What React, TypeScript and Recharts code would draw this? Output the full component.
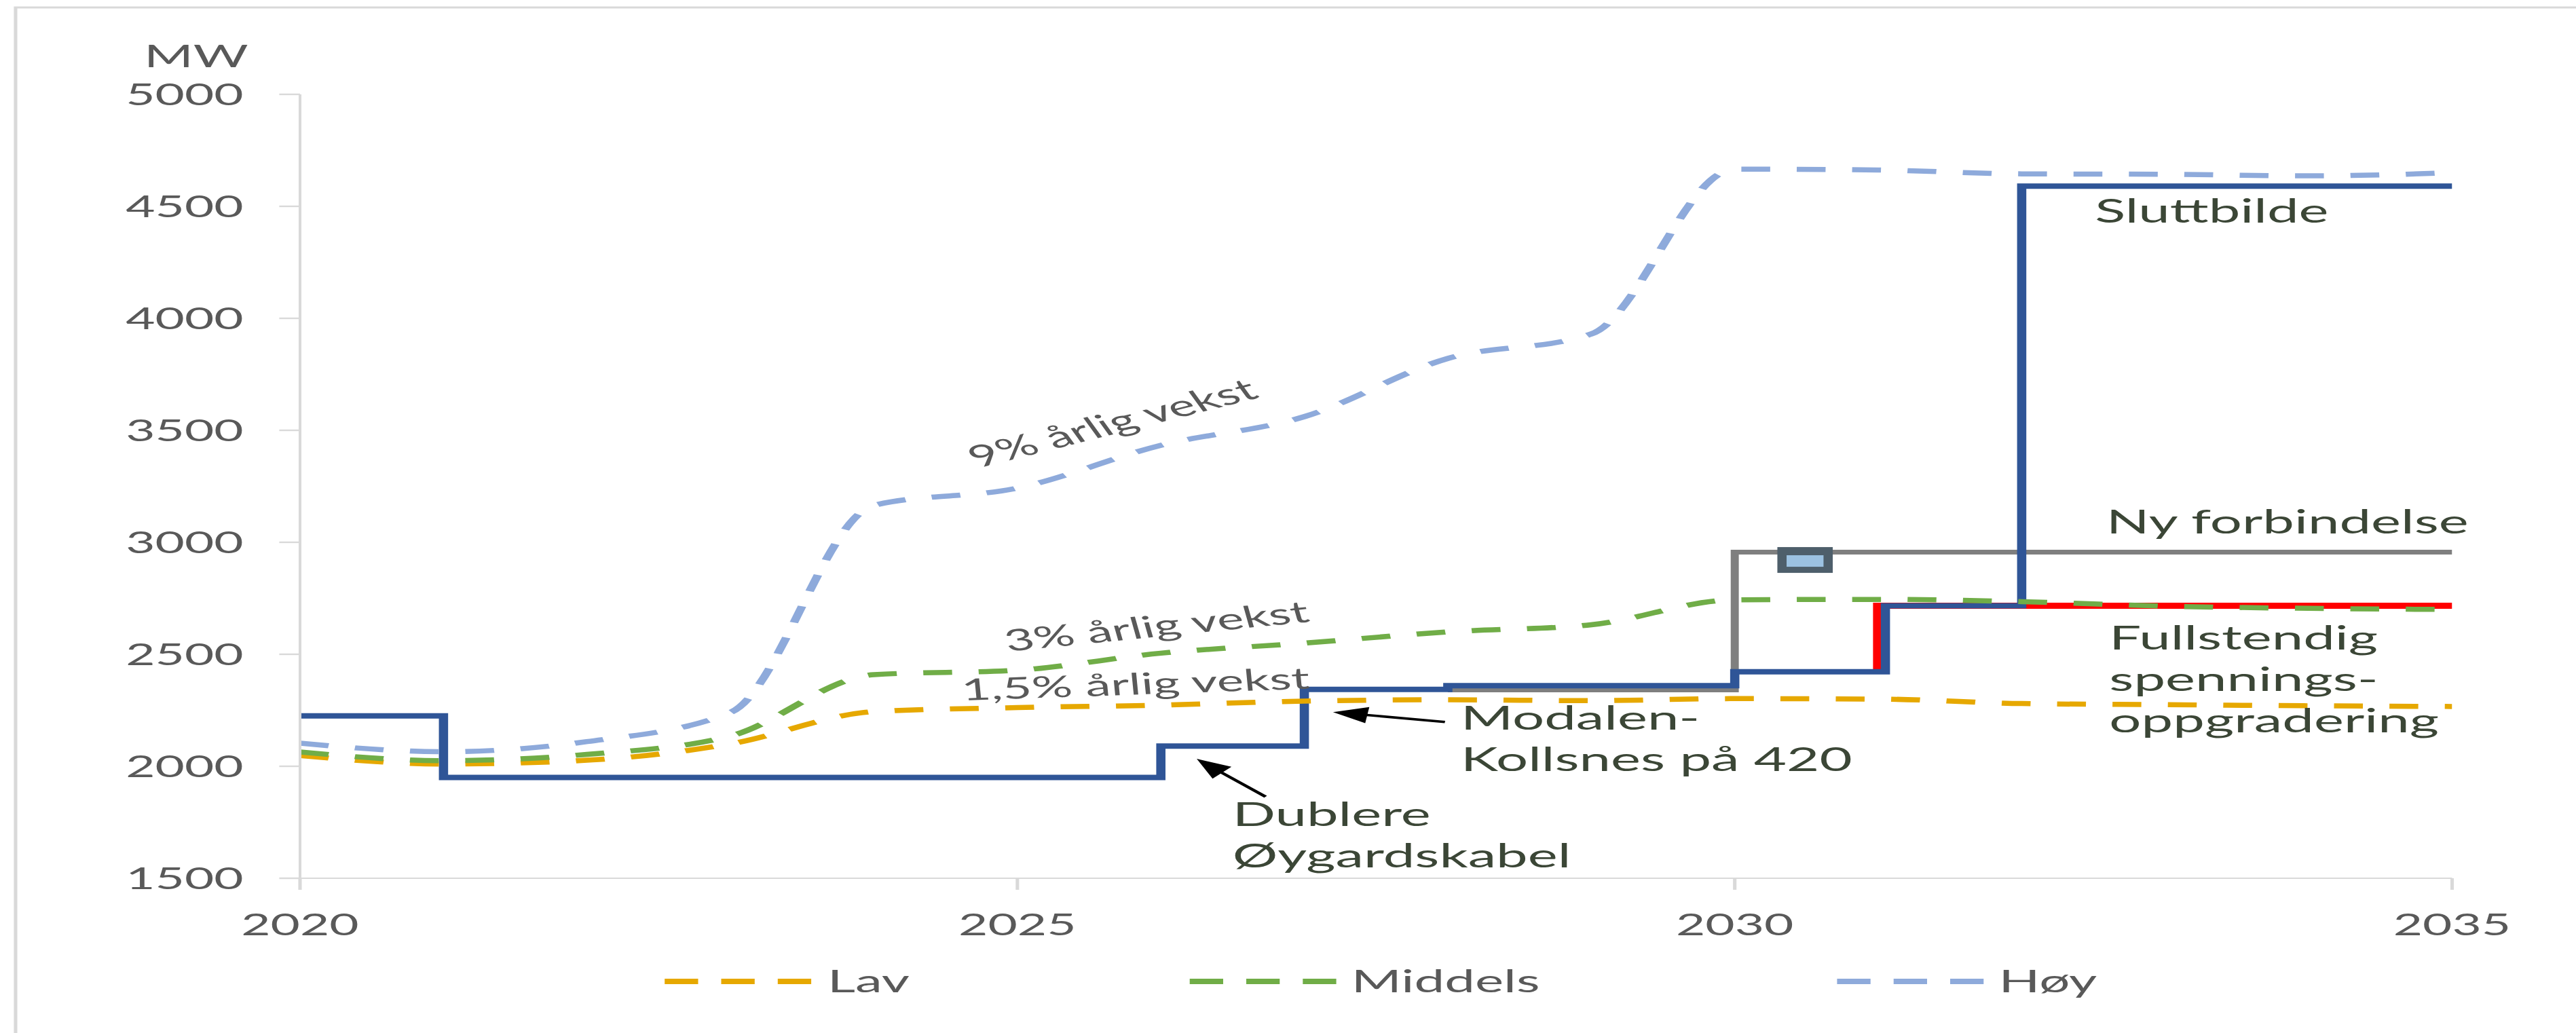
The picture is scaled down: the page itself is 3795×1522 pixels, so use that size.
import React from 'react';
import {
  ComposedChart,
  Line,
  Scatter,
  XAxis,
  YAxis,
  ReferenceDot,
  ReferenceLine,
  Customized,
} from 'recharts';

// ---------- data ----------
const years = [2020, 2021, 2022, 2023, 2024, 2025, 2026, 2027, 2028, 2029, 2030, 2031, 2032, 2033, 2034, 2035];
const lav = [2048, 2010, 2027, 2100, 2244, 2262, 2273, 2291, 2297, 2293, 2302, 2300, 2280, 2275, 2270, 2267];
const middels = [2064, 2025, 2053, 2135, 2409, 2429, 2505, 2550, 2600, 2632, 2743, 2745, 2735, 2715, 2705, 2700];
const hoy = [2103, 2065, 2110, 2240, 3165, 3242, 3433, 3561, 3821, 3930, 4666, 4662, 4645, 4643, 4636, 4650];

const sluttbildeX = [2020, 2021, 2026, 2027, 2028, 2030, 2031.05, 2032, 2035];
const sluttbildeY = [2225, 1950, 2090, 2343, 2360, 2422, 2717, 4590, 4590];
const nyForbindelseX = [2028, 2030, 2035];
const nyForbindelseY = [2341, 2956, 2956];
const fullstendigX = [2031, 2035];
const fullstendigY = [2421, 2717];
const markerX = [2030.49];
const markerY = [2921];

const xTicks = [2020, 2025, 2030, 2035];
const yTicks = [1500, 2000, 2500, 3000, 3500, 4000, 4500, 5000];
const legendNames = ['Lav', 'Middels', 'Høy'];

const notes = [
  { x: 2032.51, y: 4427, lines: ['Sluttbilde'] },
  { x: 2032.59, y: 3039, lines: ['Ny forbindelse'] },
  { x: 2032.61, y: 2521, lines: ['Fullstendig', 'spennings-', 'oppgradering'] },
  { x: 2028.09, y: 2165, lines: ['Modalen-', 'Kollsnes på 420'] },
  { x: 2026.5, y: 1732, lines: ['Dublere', 'Øygardskabel'] },
];
const growthLabels = [
  { x: 2025.71, y: 3489, text: '9% årlig vekst', angle: 23.1 },
  { x: 2025.99, y: 2579, text: '3% årlig vekst', angle: 9.5 },
  { x: 2025.83, y: 2320, text: '1,5% årlig vekst', angle: 3.3 },
];
const arrows = [
  { from: { x: 2027.98, y: 2198 }, to: { x: 2027.2, y: 2242 } },
  { from: { x: 2026.73, y: 1864 }, to: { x: 2026.25, y: 2033 } },
];

// ---------- derived series ----------
const zip = (xs: number[], ys: number[]) => xs.map((x, i) => ({ x, y: ys[i] }));
const lavData = zip(years, lav);
const middelsData = zip(years, middels);
const hoyData = zip(years, hoy);
const sluttData = zip(sluttbildeX, sluttbildeY);
const nyData = zip(nyForbindelseX, nyForbindelseY);
const fullData = zip(fullstendigX, fullstendigY);
const markerData = zip(markerX, markerY);

// ---------- styling ----------
const S = 1.7; // horizontal stretch of the original picture
const W = 2233;
const H = 1522;
const FONT = 'Lato, "Open Sans", sans-serif';
const TICK = '#595959';
const NOTE = '#3b4636';
const C_LAV = '#e6a800';
const C_MID = '#70ad47';
const C_HOY = '#8eaadb';
const C_BLUE = '#2f5597';
const C_GRAY = '#7f7f7f';
const C_RED = '#ff0000';
const seriesColors = [C_LAV, C_MID, C_HOY];

const noteShape = (lines: string[]) => (p: any) => (
  <text x={p.cx} y={p.cy} fill={NOTE} fontSize={49} fontFamily={FONT}>
    {lines.map((l, i) => (
      <tspan key={i} x={p.cx} dy={i === 0 ? 0 : 61}>
        {l}
      </tspan>
    ))}
  </text>
);

const growthShape = (text: string, angle: number) => (p: any) => (
  <text
    x={p.cx}
    y={p.cy}
    textAnchor="middle"
    fill={TICK}
    fontSize={44}
    fontFamily={FONT}
    transform={`rotate(${-angle} ${p.cx} ${p.cy})`}
  >
    {text}
  </text>
);

const ArrowShape = (p: any) => {
  const { x1, y1, x2, y2 } = p;
  if ([x1, y1, x2, y2].some((v) => v == null || isNaN(v))) return <g />;
  const dx = x2 - x1;
  const dy = y2 - y1;
  const len = Math.hypot(dx, dy) || 1;
  const ux = dx / len;
  const uy = dy / len;
  const hl = 30;
  const hw = 12;
  const bx = x2 - ux * hl;
  const by = y2 - uy * hl;
  const pts = `${x2},${y2} ${bx - uy * hw},${by + ux * hw} ${bx + uy * hw},${by - ux * hw}`;
  return (
    <g>
      <line x1={x1} y1={y1} x2={bx + ux * 2} y2={by + uy * 2} stroke="#000" strokeWidth={3.5} />
      <polygon points={pts} fill="#000" />
    </g>
  );
};

const MarkerShape = (p: any) => {
  const { cx, cy } = p;
  if (cx == null || cy == null) return <g />;
  return (
    <g>
      <rect x={cx - 24} y={cy - 19} width={48} height={38} fill="#4e5f6b" />
      <rect x={cx - 16} y={cy - 7} width={32} height={17} fill="#9cc2e2" />
    </g>
  );
};

const legendLayout = [
  { x0: 576, tx: 717 },
  { x0: 1031, tx: 1171 },
  { x0: 1592, tx: 1732 },
];

const Frame = () => (
  <g>
    <rect x={13.5} y={11} width={5000} height={5000} fill="none" stroke="#d9d9d9" strokeWidth={3} />
    <text x={170} y={99} textAnchor="middle" fill={TICK} fontSize={46} fontFamily={FONT}>
      MW
    </text>
    {legendNames.map((name, i) => (
      <g key={name}>
        <line
          x1={legendLayout[i].x0}
          y1={1446}
          x2={legendLayout[i].x0 + 127}
          y2={1446}
          stroke={seriesColors[i]}
          strokeWidth={8}
          strokeDasharray="29 20"
        />
        <text x={legendLayout[i].tx} y={1462} fill={TICK} fontSize={47} fontFamily={FONT}>
          {name}
        </text>
      </g>
    ))}
  </g>
);

export default function App() {
  return (
    <div
      style={{
        position: 'absolute',
        left: 0,
        top: 0,
        width: W,
        height: H,
        transform: `scaleX(${S})`,
        transformOrigin: '0 0',
        background: '#fff',
        fontFamily: FONT,
      }}
    >
      <ComposedChart width={W} height={H} margin={{ top: 139, right: 108, bottom: 168, left: 60 }}>
        <Customized component={Frame} />
        <XAxis
          type="number"
          dataKey="x"
          domain={[2020, 2035]}
          ticks={xTicks}
          interval={0}
          allowDataOverflow
          height={60}
          axisLine={{ stroke: '#d9d9d9', strokeWidth: 2 }}
          tickLine={{ stroke: '#d9d9d9', strokeWidth: 3 }}
          tickSize={17}
          tickMargin={36}
          tick={{ fill: TICK, fontSize: 44, fontFamily: FONT }}
        />
        <YAxis
          type="number"
          dataKey="y"
          domain={[1500, 5000]}
          ticks={yTicks}
          interval={0}
          allowDataOverflow
          width={200}
          axisLine={{ stroke: '#d9d9d9', strokeWidth: 2.4 }}
          tickLine={{ stroke: '#d9d9d9', strokeWidth: 2.4 }}
          tickSize={18}
          tickMargin={31}
          tick={{ fill: TICK, fontSize: 44, fontFamily: FONT }}
        />
        <Line data={nyData} dataKey="y" type="stepAfter" stroke={C_GRAY} strokeWidth={7} dot={false} activeDot={false} isAnimationActive={false} />
        <Line data={fullData} dataKey="y" type="stepBefore" stroke={C_RED} strokeWidth={9} dot={false} activeDot={false} isAnimationActive={false} />
        <Line data={sluttData} dataKey="y" type="stepAfter" stroke={C_BLUE} strokeWidth={8} dot={false} activeDot={false} isAnimationActive={false} />
        <Line data={lavData} dataKey="y" type="monotone" stroke={C_LAV} strokeWidth={7.5} strokeDasharray="25 23" dot={false} activeDot={false} isAnimationActive={false} />
        <Line data={middelsData} dataKey="y" type="monotone" stroke={C_MID} strokeWidth={7.5} strokeDasharray="25 23" dot={false} activeDot={false} isAnimationActive={false} />
        <Line data={hoyData} dataKey="y" type="monotone" stroke={C_HOY} strokeWidth={7.5} strokeDasharray="25 23" dot={false} activeDot={false} isAnimationActive={false} />
        <Scatter data={markerData} dataKey="y" shape={MarkerShape} isAnimationActive={false} />
        {arrows.map((a, i) => (
          <ReferenceLine key={`a${i}`} segment={[a.from, a.to]} shape={ArrowShape} ifOverflow="visible" />
        ))}
        {notes.map((n, i) => (
          <ReferenceDot key={`n${i}`} x={n.x} y={n.y} r={0} shape={noteShape(n.lines)} ifOverflow="visible" />
        ))}
        {growthLabels.map((g, i) => (
          <ReferenceDot key={`g${i}`} x={g.x} y={g.y} r={0} shape={growthShape(g.text, g.angle)} ifOverflow="visible" />
        ))}
      </ComposedChart>
    </div>
  );
}
